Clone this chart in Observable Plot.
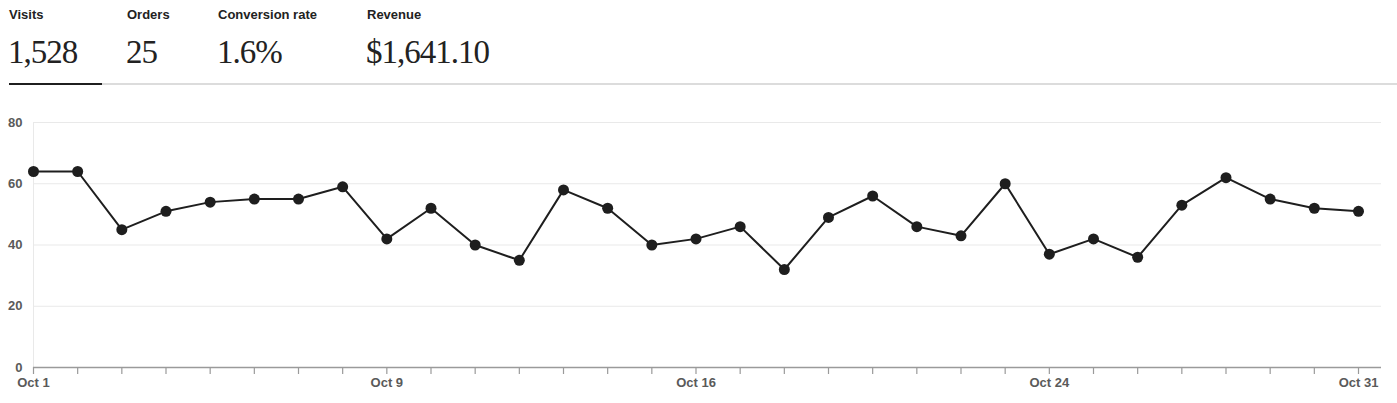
<!DOCTYPE html>
<html>
<head>
<meta charset="utf-8">
<script src="https://cdn.jsdelivr.net/npm/d3@7"></script>
<script src="https://cdn.jsdelivr.net/npm/@observablehq/plot@0.6"></script>
<style>
  html, body { margin: 0; padding: 0; background: #fff; }
  #wrap { position: relative; width: 1397px; height: 403px; overflow: hidden; }
  .lbl { position: absolute; top: 8px; font: bold 13px/13px "Liberation Sans", Arial, sans-serif; color: #222; }
  .val { position: absolute; top: 36px; font: 33px/33px "Liberation Serif", "Times New Roman", serif; color: #222; letter-spacing: -1px; }
  #grayline { position: absolute; left: 9px; right: 0; top: 83px; height: 1.5px; background: #dcdcdc; }
  #blackline { position: absolute; left: 9px; width: 93px; top: 82.5px; height: 2.5px; background: #1f1f1f; }
  #chart { position: absolute; left: 0; top: 93px; }
</style>
</head>
<body>
<div id="wrap">
  <div id="header"></div>
  <div id="grayline"></div>
  <div id="blackline"></div>
  <div id="chart"></div>
</div>
<script>
// ---- data ----
const metricNames = ["Visits", "Orders", "Conversion rate", "Revenue"];
const metricValues = ["1,528", "25", "1.6%", "$1,641.10"];
const days = [1,2,3,4,5,6,7,8,9,10,11,12,13,14,15,16,17,18,19,20,21,22,23,24,25,26,27,28,29,30,31];
const visits = [64,64,45,51,54,55,55,59,42,52,40,35,58,52,40,42,46,32,49,56,46,43,60,37,42,36,53,62,55,52,51];
const yTicks = [0, 20, 40, 60, 80];
const labeledDays = [1, 9, 16, 24, 31];
const labeledDayText = ["Oct 1", "Oct 9", "Oct 16", "Oct 24", "Oct 31"];

// ---- header ----
const lefts = [9, 127, 218, 367];
const header = document.getElementById("header");
metricNames.forEach((n, i) => {
  const l = document.createElement("div");
  l.className = "lbl"; l.style.left = lefts[i] + "px"; l.textContent = n;
  header.appendChild(l);
  const v = document.createElement("div");
  v.className = "val"; v.style.left = (lefts[i] - 1) + "px"; v.textContent = metricValues[i];
  header.appendChild(v);
});

// ---- chart ----
const data = days.map((d, i) => ({day: d, visits: visits[i]}));
const labelMap = new Map(labeledDays.map((d, i) => [d, labeledDayText[i]]));

const chart = Plot.plot({
  width: 1397,
  height: 310,
  marginLeft: 33,
  marginRight: 16,
  marginTop: 29,
  marginBottom: 36,
  style: {fontFamily: "'Liberation Sans', Arial, sans-serif", fontSize: "13px", fontWeight: "bold", color: "#5a5a5a", background: "transparent", overflow: "visible"},
  x: {domain: [1, 31], range: [33, 1358]},
  y: {domain: [0, 80]},
  marks: [
    Plot.ruleY(yTicks.filter(t => t > 0), {stroke: "#e9e9e9", strokeWidth: 1}),
    Plot.ruleX([1], {y1: 0, y2: 80, stroke: "#e9e9e9", strokeWidth: 1}),
    Plot.ruleY([0], {stroke: "#9a9a9a", strokeWidth: 1.5}),
    Plot.axisY({ticks: yTicks, tickSize: 0, tickPadding: 11, label: null, fill: "#5a5a5a", fontSize: 13}),
    Plot.axisX({ticks: days, tickSize: 7, tickPadding: 3, stroke: "#9a9a9a", strokeWidth: 1.2, label: null,
      tickFormat: d => labelMap.get(d) || "", fill: "#5a5a5a", fontSize: 13}),
    Plot.line(data, {x: "day", y: "visits", stroke: "#1e1e1e", strokeWidth: 2}),
    Plot.dot(data, {x: "day", y: "visits", r: 5.5, fill: "#1e1e1e", stroke: "none"})
  ]
});
document.getElementById("chart").appendChild(chart);
</script>
</body>
</html>
